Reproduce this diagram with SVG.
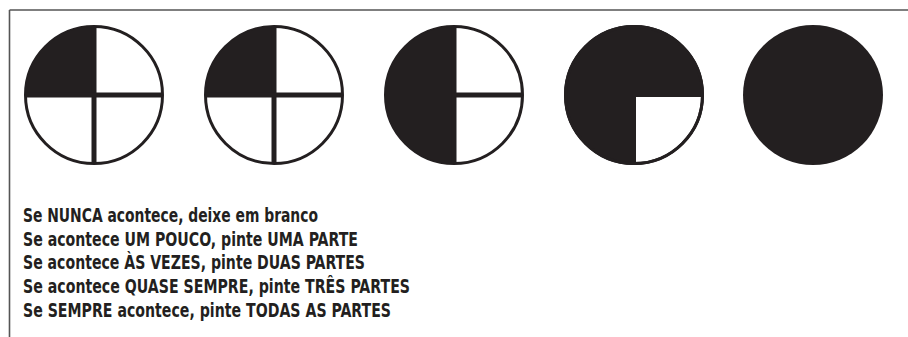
<svg xmlns="http://www.w3.org/2000/svg" width="908" height="337" viewBox="0 0 908 337">
  <style>
    .frame { stroke: #555; stroke-width: 1.6; fill: none; }
    .ring { fill: #fff; stroke: #231f20; stroke-width: 3; }
    .fill { fill: #231f20; }
    .cross { stroke: #231f20; stroke-width: 5; }
    .txt { font-family: "Liberation Sans Narrow", "DejaVu Sans Condensed", "Liberation Sans", sans-serif; font-weight: bold; font-size: 20px; fill: #231f20; }
  </style>
  <rect width="908" height="337" fill="#fff"/>
  <g id="frame">
    <line class="frame" x1="9.5" y1="10" x2="908" y2="10"/>
    <line class="frame" x1="9.5" y1="10" x2="9.5" y2="337"/>
  </g>
  <g id="circle-1">
    <circle class="ring" cx="94" cy="95" r="68.5"/>
    <path class="fill" d="M94,95 L25.5,95 A68.5,68.5 0 0 1 94,26.5 Z"/>
    <line class="cross" x1="94" y1="26.5" x2="94" y2="163.5"/>
    <line class="cross" x1="25.5" y1="95" x2="162.5" y2="95"/>
  </g>
  <g id="circle-2">
    <circle class="ring" cx="274" cy="95" r="68.5"/>
    <path class="fill" d="M274,95 L205.5,95 A68.5,68.5 0 0 1 274,26.5 Z"/>
    <line class="cross" x1="274" y1="26.5" x2="274" y2="163.5"/>
    <line class="cross" x1="205.5" y1="95" x2="342.5" y2="95"/>
  </g>
  <g id="circle-3">
    <circle class="ring" cx="454" cy="95" r="68.5"/>
    <path class="fill" d="M454,163.5 A68.5,68.5 0 0 1 454,26.5 Z"/>
    <line class="cross" x1="454" y1="26.5" x2="454" y2="163.5"/>
    <line class="cross" x1="454" y1="95" x2="522.5" y2="95"/>
  </g>
  <g id="circle-4">
    <circle class="ring" cx="634" cy="95" r="68.5"/>
    <path class="fill" d="M636,97 L636,163.5 A68.5,68.5 0 1 1 702.5,97 Z"/>
    <circle cx="634" cy="95" r="68.5" fill="none" stroke="#231f20" stroke-width="3"/>
  </g>
  <g id="circle-5">
    <circle class="fill" cx="813" cy="95" r="70"/>
  </g>
  <g id="legend">
    <text class="txt" x="23" y="221.7" textLength="295" lengthAdjust="spacingAndGlyphs">Se NUNCA acontece, deixe em branco</text>
    <text class="txt" x="23" y="245.5" textLength="335" lengthAdjust="spacingAndGlyphs">Se acontece UM POUCO, pinte UMA PARTE</text>
    <text class="txt" x="23" y="269.2" textLength="342" lengthAdjust="spacingAndGlyphs">Se acontece ÀS VEZES, pinte DUAS PARTES</text>
    <text class="txt" x="23" y="293" textLength="387" lengthAdjust="spacingAndGlyphs">Se acontece QUASE SEMPRE, pinte TRÊS PARTES</text>
    <text class="txt" x="23" y="316.7" textLength="368" lengthAdjust="spacingAndGlyphs">Se SEMPRE acontece, pinte TODAS AS PARTES</text>
  </g>
</svg>
